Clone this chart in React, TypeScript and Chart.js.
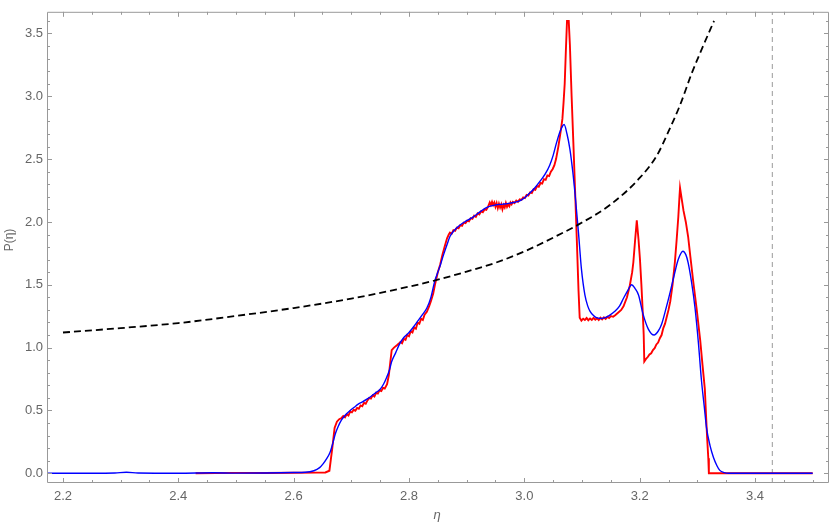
import React, { useEffect, useRef } from "react";
import { Chart, registerables } from "chart.js";

Chart.register(...registerables);

// Red (simulation) curve: [eta, P(eta)] pairs
const redCurve: [number, number][] = [
  [2.43, 0], [2.5, 0.003], [2.55, 0.002], [2.6, 0.004], [2.64, 0.005], [2.655, 0.006], [2.662, 0.02], [2.667, 0.2], [2.671, 0.36], [2.675, 0.41], [2.679, 0.43], [2.683, 0.44], [2.686, 0.455], [2.689, 0.445], [2.692, 0.47], [2.695, 0.46], [2.698, 0.49], [2.701, 0.484], [2.704, 0.505], [2.707, 0.498], [2.71, 0.52], [2.713, 0.514], [2.716, 0.54], [2.719, 0.533], [2.722, 0.56], [2.725, 0.553], [2.728, 0.58], [2.731, 0.6], [2.734, 0.594], [2.737, 0.62], [2.74, 0.61], [2.743, 0.64], [2.746, 0.634], [2.749, 0.66], [2.752, 0.654], [2.755, 0.68], [2.758, 0.674], [2.762, 0.708], [2.765, 0.78], [2.768, 0.9], [2.77, 0.979],
  [2.774, 1.0], [2.779, 1.018], [2.782, 1.03], [2.785, 1.045], [2.788, 1.035], [2.791, 1.07], [2.794, 1.062], [2.797, 1.1], [2.8, 1.09], [2.803, 1.13], [2.806, 1.12], [2.809, 1.16], [2.812, 1.15], [2.815, 1.2], [2.818, 1.19], [2.821, 1.23], [2.824, 1.22], [2.827, 1.262], [2.831, 1.285], [2.835, 1.33], [2.838, 1.37], [2.842, 1.43], [2.845, 1.5], [2.85, 1.6], [2.854, 1.66], [2.858, 1.74], [2.862, 1.806], [2.866, 1.87], [2.869, 1.9], [2.871, 1.915],
  [2.874, 1.905], [2.877, 1.935], [2.88, 1.93], [2.883, 1.955], [2.886, 1.95], [2.889, 1.975], [2.892, 1.97], [2.895, 1.995], [2.898, 1.99], [2.901, 2.01], [2.904, 2.005], [2.907, 2.03], [2.91, 2.025], [2.913, 2.05], [2.916, 2.04], [2.919, 2.068], [2.922, 2.06], [2.925, 2.085], [2.928, 2.078], [2.931, 2.1], [2.934, 2.096], [2.937, 2.12], [2.94, 2.155], [2.942, 2.135], [2.944, 2.16], [2.946, 2.135], [2.948, 2.155], [2.95, 2.12], [2.952, 2.15], [2.954, 2.11], [2.956, 2.145], [2.958, 2.115], [2.96, 2.14], [2.962, 2.1], [2.964, 2.135], [2.966, 2.115], [2.968, 2.15], [2.97, 2.12], [2.972, 2.14], [2.974, 2.125], [2.976, 2.155], [2.978, 2.14], [2.98, 2.16], [2.983, 2.15], [2.986, 2.17], [2.989, 2.16], [2.992, 2.18], [2.995, 2.175], [2.998, 2.195],
  [3.001, 2.19], [3.004, 2.215], [3.007, 2.21], [3.01, 2.235], [3.013, 2.23], [3.016, 2.26], [3.019, 2.255], [3.022, 2.285], [3.025, 2.28], [3.028, 2.31], [3.031, 2.305], [3.034, 2.34], [3.037, 2.335], [3.04, 2.37], [3.043, 2.365], [3.046, 2.4], [3.049, 2.42], [3.052, 2.45], [3.055, 2.5], [3.059, 2.6], [3.063, 2.72], [3.066, 2.82], [3.068, 2.95], [3.07, 3.1], [3.072, 3.36], [3.074, 3.6], [3.077, 3.6], [3.079, 3.41], [3.082, 3.0], [3.085, 2.633], [3.088, 2.25], [3.091, 1.858], [3.094, 1.45], [3.096, 1.238],
  [3.099, 1.215], [3.102, 1.23], [3.105, 1.22], [3.108, 1.235], [3.111, 1.218], [3.114, 1.232], [3.117, 1.22], [3.12, 1.236], [3.123, 1.222], [3.126, 1.234], [3.129, 1.22], [3.132, 1.238], [3.135, 1.225], [3.138, 1.24], [3.141, 1.228], [3.144, 1.245], [3.147, 1.235], [3.15, 1.25], [3.154, 1.245], [3.158, 1.26], [3.163, 1.28], [3.168, 1.3], [3.172, 1.328], [3.178, 1.4], [3.183, 1.496], [3.187, 1.6], [3.189, 1.677], [3.192, 1.85], [3.195, 2.013], [3.198, 1.86], [3.2005, 1.703], [3.203, 1.5], [3.205, 1.315], [3.207, 1.1], [3.208, 0.889],
  [3.211, 0.91], [3.214, 0.925], [3.217, 0.945], [3.22, 0.955], [3.223, 0.98], [3.226, 0.995], [3.229, 1.025], [3.232, 1.04], [3.235, 1.075], [3.238, 1.1], [3.241, 1.155], [3.244, 1.19], [3.247, 1.245], [3.25, 1.3], [3.253, 1.367], [3.257, 1.5], [3.261, 1.677], [3.264, 1.85], [3.267, 2.039], [3.269, 2.2], [3.27, 2.271], [3.273, 2.18], [3.276, 2.09], [3.28, 2.0], [3.284, 1.884], [3.288, 1.72], [3.293, 1.522], [3.299, 1.3], [3.305, 1.057], [3.309, 0.86], [3.313, 0.669], [3.315, 0.47], [3.317, 0.281], [3.319, 0.12], [3.32, 0], [3.4, 0], [3.5, 0],
];

const blueEta = [2.17, 2.25, 2.29, 2.31, 2.33, 2.4, 2.46, 2.5, 2.55, 2.6, 2.62, 2.635, 2.645, 2.651, 2.657, 2.663, 2.668, 2.672, 2.677, 2.683, 2.69, 2.698, 2.705, 2.712, 2.72, 2.727, 2.735, 2.742, 2.75, 2.756, 2.761, 2.766, 2.77, 2.777, 2.784, 2.791, 2.8, 2.807, 2.815, 2.823, 2.831, 2.838, 2.845, 2.85, 2.854, 2.86, 2.866, 2.871, 2.88, 2.888, 2.9, 2.911, 2.923, 2.935, 2.95, 2.963, 2.975, 2.992, 3.0, 3.01, 3.018, 3.027, 3.036, 3.044, 3.05, 3.056, 3.062, 3.069, 3.074, 3.079, 3.084, 3.088, 3.094, 3.099, 3.105, 3.11, 3.114, 3.12, 3.125, 3.133, 3.14, 3.147, 3.157, 3.165, 3.172, 3.18, 3.186, 3.192, 3.198, 3.206, 3.215, 3.225, 3.232, 3.238, 3.245, 3.253, 3.26, 3.267, 3.275, 3.28, 3.284, 3.29, 3.296, 3.302, 3.307, 3.312, 3.316, 3.322, 3.328, 3.334, 3.339, 3.347, 3.354, 3.5];
const blueP = [0.0, 0.0, 0.002, 0.008, 0.002, 0.0, 0.004, 0.001, 0.002, 0.006, 0.008, 0.02, 0.045, 0.075, 0.115, 0.165, 0.24, 0.31, 0.37, 0.424, 0.465, 0.5, 0.525, 0.55, 0.57, 0.59, 0.615, 0.64, 0.669, 0.71, 0.76, 0.82, 0.889, 0.96, 1.031, 1.08, 1.12, 1.16, 1.21, 1.26, 1.315, 1.4, 1.535, 1.6, 1.651, 1.74, 1.82, 1.884, 1.94, 1.974, 2.01, 2.039, 2.08, 2.116, 2.135, 2.142, 2.15, 2.168, 2.19, 2.233, 2.27, 2.323, 2.38, 2.452, 2.53, 2.633, 2.72, 2.775, 2.7, 2.58, 2.4, 2.22, 1.909, 1.626, 1.419, 1.33, 1.289, 1.255, 1.238, 1.232, 1.238, 1.255, 1.289, 1.33, 1.393, 1.46, 1.5, 1.47, 1.419, 1.264, 1.147, 1.1, 1.13, 1.186, 1.3, 1.444, 1.58, 1.703, 1.767, 1.74, 1.677, 1.52, 1.315, 1.03, 0.746, 0.53, 0.359, 0.22, 0.126, 0.06, 0.023, 0.005, 0.0, 0.0];

const dashEta = [2.2, 2.3, 2.4, 2.5, 2.6, 2.7, 2.8, 2.85, 2.9, 2.95, 3.0, 3.05, 3.1, 3.15, 3.2, 3.23, 3.25, 3.27, 3.29, 3.31, 3.329];
const dashP = [1.12, 1.155, 1.195, 1.252, 1.315, 1.39, 1.485, 1.54, 1.605, 1.675, 1.765, 1.875, 1.995, 2.14, 2.35, 2.53, 2.72, 2.93, 3.18, 3.4, 3.6];

const vLineEta = 3.43;

const xTicks = [2.2, 2.4, 2.6, 2.8, 3.0, 3.2, 3.4];
const yTicks = [0, 0.5, 1.0, 1.5, 2.0, 2.5, 3.0, 3.5];
const xMinorStep = 0.05;
const yMinorStep = 0.1;

const X_MIN = 2.1723;
const X_MAX = 3.5283;
const Y_MIN = -0.0776;
const Y_MAX = 3.6724;

const FONT = "'Liberation Sans', Arial, sans-serif";
const GRAY = "#999999";
const LABEL = "#666666";

const pts = (xs: number[], ys: number[]) => xs.map((x, i) => ({ x, y: ys[i] }));

const framePlugin = {
  id: "frame",
  afterDatasetsDraw(chart: any) {
    const { ctx, chartArea } = chart;
    const { left, right, top, bottom } = chartArea;
    const xs = chart.scales.x;
    const ys = chart.scales.y;
    ctx.save();
    ctx.strokeStyle = GRAY;
    ctx.lineWidth = 1;
    ctx.setLineDash([]);
    ctx.beginPath();
    ctx.rect(left + 0.5, top + 0.5, right - left - 1, bottom - top - 1);
    ctx.stroke();
    const majorX = new Set(xTicks.map((v) => Math.round(v * 100)));
    const majorY = new Set(yTicks.map((v) => Math.round(v * 100)));
    ctx.beginPath();
    for (let k = Math.ceil(X_MIN / xMinorStep); k * xMinorStep <= X_MAX; k++) {
      const v = k * xMinorStep;
      const isMajor = majorX.has(Math.round(v * 100));
      const len = isMajor ? 5 : 3;
      const px = Math.round(xs.getPixelForValue(v)) + 0.5;
      ctx.moveTo(px, bottom);
      ctx.lineTo(px, bottom - len);
      ctx.moveTo(px, top);
      ctx.lineTo(px, top + len);
    }
    for (let k = Math.ceil(Y_MIN / yMinorStep); k * yMinorStep <= Y_MAX; k++) {
      const v = k * yMinorStep;
      const isMajor = majorY.has(Math.round(v * 100));
      const len = isMajor ? 5 : 3;
      const py = Math.round(ys.getPixelForValue(v)) + 0.5;
      ctx.moveTo(left, py);
      ctx.lineTo(left + len, py);
      ctx.moveTo(right, py);
      ctx.lineTo(right - len, py);
    }
    ctx.stroke();
    ctx.restore();
  },
  afterDraw(chart: any) {
    const { ctx } = chart;
    ctx.save();
    ctx.fillStyle = LABEL;
    ctx.textAlign = "center";
    ctx.textBaseline = "middle";
    ctx.font = `italic 13px ${FONT}`;
    ctx.fillText("η", 437, 515);
    ctx.translate(10, 240);
    ctx.rotate(-Math.PI / 2);
    ctx.font = `12px ${FONT}`;
    ctx.fillText("P(η)", 0, 0);
    ctx.restore();
  },
};

export default function App() {
  const ref = useRef<HTMLCanvasElement | null>(null);
  useEffect(() => {
    if (!ref.current) return;
    const chart = new Chart(ref.current, {
      type: "line",
      data: {
        datasets: [
          {
            data: pts(dashEta, dashP),
            borderColor: "#000000",
            borderWidth: 1.8,
            borderDash: [7, 4],
            pointRadius: 0,
            cubicInterpolationMode: "monotone",
            order: 0,
          },
          {
            data: pts(blueEta, blueP),
            borderColor: "#0000ff",
            borderWidth: 1.4,
            pointRadius: 0,
            cubicInterpolationMode: "monotone",
            order: 1,
          },
          {
            data: redCurve.map(([x, y]) => ({ x, y })),
            borderColor: "#ff0000",
            borderWidth: 1.9,
            pointRadius: 0,
            order: 2,
          },
          {
            data: [
              { x: vLineEta, y: Y_MIN },
              { x: vLineEta, y: Y_MAX },
            ],
            borderColor: "#999999",
            borderWidth: 1,
            borderDash: [5, 4],
            pointRadius: 0,
            order: 3,
          },
        ],
      },
      options: {
        responsive: false,
        animation: false,
        devicePixelRatio: 1,
        layout: { padding: { top: 0, right: 1, left: 0, bottom: 0 } },
        plugins: { legend: { display: false }, tooltip: { enabled: false } },
        elements: { line: { tension: 0 } },
        scales: {
          x: {
            type: "linear",
            min: X_MIN,
            max: X_MAX,
            grid: { display: false, drawTicks: false },
            border: { display: false },
            afterBuildTicks: (s: any) => {
              s.ticks = xTicks.map((v) => ({ value: v }));
            },
            afterFit: (s: any) => {
              s.height = 45;
            },
            ticks: {
              autoSkip: false,
              maxRotation: 0,
              padding: 6,
              color: LABEL,
              font: { family: FONT, size: 13 },
              callback: (v: any) => Number(v).toFixed(1),
            },
          },
          y: {
            type: "linear",
            min: Y_MIN,
            max: Y_MAX,
            grid: { display: false, drawTicks: false },
            border: { display: false },
            afterBuildTicks: (s: any) => {
              s.ticks = yTicks.map((v) => ({ value: v }));
            },
            afterFit: (s: any) => {
              s.width = 47;
            },
            ticks: {
              autoSkip: false,
              padding: 4,
              color: LABEL,
              font: { family: FONT, size: 13 },
              callback: (v: any) => Number(v).toFixed(1),
            },
          },
        },
      },
      plugins: [framePlugin],
    } as any);
    return () => chart.destroy();
  }, []);
  return (
    <div style={{ position: "absolute", left: 0, top: 0, width: 830, height: 528, background: "#fff" }}>
      <canvas ref={ref} width={830} height={528} style={{ display: "block" }} />
    </div>
  );
}
